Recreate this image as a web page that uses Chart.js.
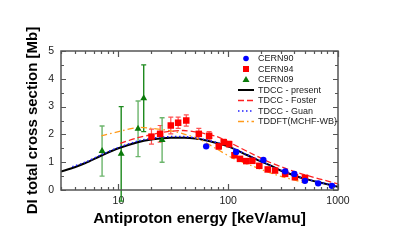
<!DOCTYPE html>
<html>
<head>
<meta charset="utf-8">
<script src="https://cdn.jsdelivr.net/npm/chart.js@4"></script>
<style>
  html, body { margin: 0; padding: 0; background: #fff; }
</style>
</head>
<body>
<canvas id="dichart" width="399" height="241"></canvas>
<script>
// measured data (energy in keV/amu, cross section in Mb)
const cern90E = [63, 118, 209, 330, 400, 500, 660, 880];
const cern90V = [1.57, 1.37, 1.08, 0.67, 0.58, 0.33, 0.24, 0.15];

const cern94E = [20, 24, 30, 35, 41.5, 54, 67, 82, 91, 102, 114, 128, 146, 166, 192, 229, 267, 330, 405, 500];
const cern94V = [1.92, 2.02, 2.32, 2.42, 2.5, 2.02, 1.95, 1.57, 1.72, 1.65, 1.25, 1.12, 1.04, 1.05, 0.87, 0.74, 0.7, 0.58, 0.46, 0.44];
const cern94Err = [0.27, 0.3, 0.3, 0.2, 0.2, 0.2, 0.15, 0.1, 0.1, 0.1, 0.08, 0.08, 0.07, 0.07, 0.06, 0.06, 0.06, 0.05, 0.05, 0.05];

const cern09E = [7.1, 10.6, 15.1, 17.0, 25.0];
const cern09V = [1.4, 1.3, 2.2, 3.3, 1.8];
const cern09Err = [0.9, 1.7, 1.0, 1.2, 0.8];

// theory curves
const presentE = [3, 4, 5, 7, 10, 15, 20, 25, 30, 40, 50, 60, 80, 100, 150, 200, 250, 300, 400, 500, 700, 1000];
const presentV = [0.66, 0.82, 0.97, 1.24, 1.5, 1.72, 1.82, 1.86, 1.88, 1.88, 1.85, 1.8, 1.68, 1.57, 1.25, 1.02, 0.86, 0.7, 0.52, 0.4, 0.26, 0.12];

const fosterE = [10.4, 15, 20, 28, 39, 55, 79, 104, 158, 241, 450, 1000];
const fosterV = [1.68, 1.88, 1.99, 2.1, 2.14, 2.06, 1.92, 1.7, 1.34, 0.99, 0.6, 0.22];

const guanE = [3.8, 5, 7, 10, 15, 20, 25, 30, 40, 50, 60, 80, 100, 150, 200, 300, 500, 1000];
const guanV = [0.84, 1.0, 1.27, 1.53, 1.76, 1.86, 1.9, 1.92, 1.92, 1.88, 1.82, 1.7, 1.58, 1.26, 1.03, 0.71, 0.41, 0.13];

const tddftE = [7, 10.5, 15, 20, 30, 39, 55, 79, 111, 158, 225, 320, 420, 500];
const tddftV = [1.95, 2.12, 2.25, 2.22, 2.13, 2.02, 1.82, 1.47, 1.14, 0.9, 0.66, 0.46, 0.34, 0.24];

const xMajor = [10, 100, 1000];

const FONT = "'Liberation Sans', Arial, Helvetica, sans-serif";

function pts(xs, ys) {
  return xs.map((x, i) => ({ x: x, y: ys[i] }));
}

// vertical error bars with caps, drawn through the chart scales
const errorBars = {
  id: 'errorBars',
  beforeDatasetsDraw(chart) {
    const ctx = chart.ctx;
    const xs = chart.scales.x, ys = chart.scales.y;
    chart.data.datasets.forEach(ds => {
      if (!ds.errors) return;
      ctx.save();
      ds.data.forEach((p, i) => {
        const px = xs.getPixelForValue(p.x);
        const top = ys.getPixelForValue(p.y + ds.errors[i]);
        const bot = ys.getPixelForValue(p.y - ds.errors[i]);
        const col = Array.isArray(ds.errorColor) ? ds.errorColor[i] : ds.errorColor;
        ctx.strokeStyle = col;
        ctx.lineWidth = ds.errorWidth;
        ctx.beginPath();
        ctx.moveTo(px, top); ctx.lineTo(px, bot);
        ctx.moveTo(px - 2.5, top); ctx.lineTo(px + 2.5, top);
        ctx.moveTo(px - 2.5, bot); ctx.lineTo(px + 2.5, bot);
        ctx.stroke();
      });
      ctx.restore();
    });
  }
};

// frame with inward ticks on all four sides
const frame = {
  id: 'frame',
  afterDraw(chart) {
    const ctx = chart.ctx;
    const a = chart.chartArea;
    const xs = chart.scales.x, ys = chart.scales.y;
    ctx.save();
    ctx.strokeStyle = '#555';
    ctx.lineWidth = 1.2;
    ctx.beginPath();
    for (let d = 1; d <= 1000; d *= 10) {
      for (let m = 1; m <= 9; m++) {
        const v = d * m;
        if (v < xs.min || v > xs.max) continue;
        const px = Math.round(xs.getPixelForValue(v)) + 0.5;
        const len = (m === 1) ? 6 : 3;
        ctx.moveTo(px, a.bottom); ctx.lineTo(px, a.bottom - len);
        ctx.moveTo(px, a.top); ctx.lineTo(px, a.top + len);
      }
    }
    for (let v = 0; v <= 5; v += 0.5) {
      const py = Math.round(ys.getPixelForValue(v)) + 0.5;
      const len = (v % 1 === 0) ? 5 : 3;
      ctx.moveTo(a.left, py); ctx.lineTo(a.left + len, py);
      ctx.moveTo(a.right, py); ctx.lineTo(a.right - len, py);
    }
    ctx.stroke();
    ctx.lineWidth = 1.5;
    ctx.strokeRect(a.left, a.top, a.right - a.left, a.bottom - a.top);
    ctx.restore();
  }
};

// legend inside the plot, top right
const innerLegend = {
  id: 'innerLegend',
  afterDraw(chart) {
    const ctx = chart.ctx;
    const a = chart.chartArea;
    const x0 = a.right - 100, y0 = a.top + 7.5, row = 10.5;
    ctx.save();
    ctx.font = '9px ' + FONT;
    ctx.textBaseline = 'middle';
    ctx.fillStyle = '#222';
    chart.data.datasets.forEach((ds, i) => {
      const y = y0 + i * row;
      const mx = x0 + 8;
      if (ds.showLine === false) {
        ctx.fillStyle = ds.pointBackgroundColor;
        ctx.beginPath();
        if (ds.pointStyle === 'circle') {
          ctx.arc(mx, y, 2.8, 0, Math.PI * 2);
        } else if (ds.pointStyle === 'rect') {
          ctx.rect(mx - 3, y - 3, 6, 6);
        } else {
          ctx.moveTo(mx, y - 3.5); ctx.lineTo(mx + 3.5, y + 2.5); ctx.lineTo(mx - 3.5, y + 2.5); ctx.closePath();
        }
        ctx.fill();
      } else {
        ctx.strokeStyle = ds.borderColor;
        ctx.lineWidth = ds.borderWidth;
        ctx.setLineDash(ds.borderDash || []);
        ctx.beginPath();
        ctx.moveTo(x0, y); ctx.lineTo(x0 + 16, y);
        ctx.stroke();
        ctx.setLineDash([]);
      }
      ctx.fillStyle = '#222';
      ctx.fillText(ds.label, x0 + 20, y + 0.5);
    });
    ctx.restore();
  }
};

const ctx = document.getElementById('dichart').getContext('2d');
const diChart = new Chart(ctx, {
  type: 'scatter',
  data: {
    datasets: [
      {
        label: 'CERN90', data: pts(cern90E, cern90V), showLine: false, order: 0,
        pointStyle: 'circle', pointRadius: 3.2, pointBackgroundColor: '#0000ff', pointBorderColor: '#0000ff', pointBorderWidth: 0
      },
      {
        label: 'CERN94', data: pts(cern94E, cern94V), showLine: false, order: 0,
        pointStyle: 'rect', pointRadius: 4.6, pointBackgroundColor: '#ff0000', pointBorderColor: '#ff0000', pointBorderWidth: 0,
        errors: cern94Err, errorColor: '#ff5050', errorWidth: 1.2
      },
      {
        label: 'CERN09', data: pts(cern09E, cern09V), showLine: false, order: 0,
        pointStyle: 'triangle', pointRadius: 4, pointBackgroundColor: '#0a7a0a', pointBorderColor: '#0a7a0a', pointBorderWidth: 0,
        errors: cern09Err, errorColor: ['#6cb56c', '#1e8a1e', '#6cb56c', '#1e8a1e', '#6cb56c'], errorWidth: 1.4
      },
      {
        label: 'TDCC - present', data: pts(presentE, presentV), showLine: true, order: 3,
        borderColor: '#000', borderWidth: 2, pointRadius: 0, tension: 0.3
      },
      {
        label: 'TDCC - Foster', data: pts(fosterE, fosterV), showLine: true, order: 2,
        borderColor: '#ff2020', borderWidth: 1.3, borderDash: [6, 3], pointRadius: 0, tension: 0.3
      },
      {
        label: 'TDCC - Guan', data: pts(guanE, guanV), showLine: true, order: 1,
        borderColor: '#2020ff', borderWidth: 1.5, borderDash: [1.5, 2.5], pointRadius: 0, tension: 0.3
      },
      {
        label: 'TDDFT(MCHF-WB)', data: pts(tddftE, tddftV), showLine: true, order: 2,
        borderColor: '#ff9a1a', borderWidth: 1.3, borderDash: [6, 3, 1.5, 3], pointRadius: 0, tension: 0.3
      }
    ]
  },
  options: {
    responsive: false,
    animation: false,
    devicePixelRatio: 1,
    layout: { padding: { top: 51, right: 61, left: 20, bottom: 0 } },
    plugins: { legend: { display: false }, tooltip: { enabled: false } },
    scales: {
      x: {
        type: 'logarithmic', min: 3, max: 1000,
        grid: { display: false, drawTicks: false },
        border: { display: false },
        afterFit(s) { s.height = 51; },
        afterBuildTicks(s) { s.ticks = xMajor.map(v => ({ value: v })); },
        ticks: {
          autoSkip: false, maxRotation: 0, padding: 5, color: '#222',
          font: { family: FONT, size: 10.5 },
          callback: v => String(v)
        },
        title: {
          display: true, text: 'Antiproton energy [keV/amu]', color: '#000',
          font: { family: FONT, size: 15.5, weight: 'bold' },
          padding: { top: 0, bottom: 13 }
        }
      },
      y: {
        type: 'linear', min: 0, max: 5,
        grid: { display: false, drawTicks: false },
        border: { display: false },
        afterFit(s) { s.width = 41; },
        ticks: {
          stepSize: 1, padding: 7, color: '#222',
          font: { family: FONT, size: 10.5 }
        },
        title: {
          display: true, text: 'DI total cross section [Mb]', color: '#000',
          font: { family: FONT, size: 15, weight: 'bold' },
          padding: { top: 4, bottom: 0 }
        }
      }
    }
  },
  plugins: [errorBars, frame, innerLegend]
});
</script>
</body>
</html>
